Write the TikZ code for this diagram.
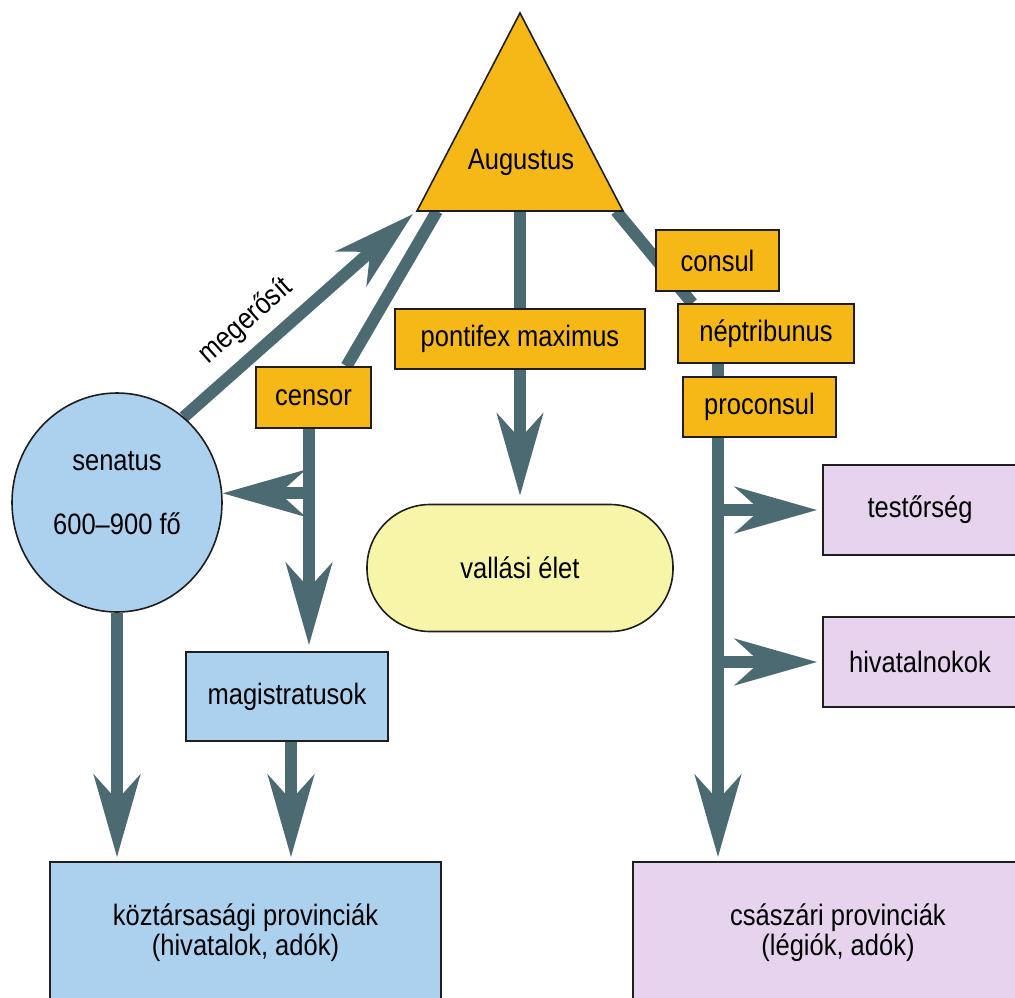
\documentclass[tikz,border=0pt]{standalone}
\usepackage{fontspec}
\setmainfont{Liberation Sans}[FakeStretch=0.865]
\usetikzlibrary{arrows.meta,shapes.geometric,calc}
\pgfdeclarelayer{bg}
\pgfsetlayers{bg,main}
\definecolor{lnc}{HTML}{4B6A71}
\definecolor{orng}{HTML}{F5B816}
\definecolor{lblue}{HTML}{ABD1EE}
\definecolor{lpurp}{HTML}{E7D3EE}
\definecolor{lyell}{HTML}{F7F6A8}
\definecolor{edge}{HTML}{1E1E1E}
\tikzset{
  conn/.style={draw=lnc,line width=12pt},
  arr/.style={conn,-{Stealth[length=82pt,width=46pt,inset=25pt]}},
  box/.style={draw=edge,line width=1.6pt,rectangle,inner sep=0pt,align=center},
  obox/.style={box,fill=orng},
  bbox/.style={box,fill=lblue},
  pbox/.style={box,fill=lpurp},
}
\begin{document}
\begin{tikzpicture}[x=1pt,y=-1pt,font=\fontsize{29.5}{30}\selectfont]
\useasboundingbox (0,0) rectangle (1015,997);
\clip (0,0) rectangle (1015,997);
% Augustus triangle
\filldraw[fill=orng,draw=edge,line width=1.6pt] (520,13) -- (417,211) -- (623,211) -- cycle;
\node (aug) at (521,162) {Augustus};
\coordinate (tl) at (413,214);
\coordinate (tbl) at (437,211);
\coordinate (tbm) at (520,211);
\coordinate (tbr) at (616,211);
% nodes
\node[obox,minimum width=250,minimum height=60] (pont) at (520,339) {pontifex maximus};
\node[box,fill=lyell,rounded corners=63pt,minimum width=306,minimum height=127] (vall) at (520,568) {vallási élet};
\node[obox,minimum width=123,minimum height=61] (consul) at (717.5,260.5) {consul};
\node[obox,minimum width=176,minimum height=59] (nept) at (766,333.5) {néptribunus};
\node[obox,minimum width=153,minimum height=60] (procon) at (759.5,407) {proconsul};
\node[pbox,minimum width=194,minimum height=90] (test) at (920,510) {testőrség};
\node[pbox,minimum width=194,minimum height=90] (hiv) at (920,662) {hivatalnokok};
\node[obox,minimum width=115,minimum height=61] (censor) at (313.5,397.5) {censor};
\node[bbox,shape=ellipse,minimum width=210,minimum height=219,text depth=19pt] (sen) at (117,502.5) {senatus\\[34pt]600–900 fő};
\node[bbox,minimum width=202,minimum height=89] (mag) at (287,696.5) {magistratusok};
\node[bbox,minimum width=391,minimum height=142] (kozt) at (245.5,933) {köztársasági provinciák\\(hivatalok, adók)};
\node[pbox,minimum width=410,minimum height=142] (csasz) at (838,933) {császári provinciák\\(légiók, adók)};
% connectors
\begin{pgfonlayer}{bg}
\draw[arr] (sen.52) -- node[sloped,above=7pt,pos=0.36,text=black] {megerősít} (tl);
\draw[conn] (tbl) -- ([xshift=33pt]censor.north);
\coordinate (cv) at ([xshift=-4.5pt]censor.south);
\draw[arr,shorten >=6pt] (cv) -- (cv |- mag.north);
\draw[arr] (cv |- sen.5) -- (sen.5);
\draw[arr,shorten >=4pt] (sen.south) -- (sen.south |- kozt.north);
\draw[arr,shorten >=4pt] ([xshift=4pt]mag.south) -- ([xshift=4pt]mag.south |- kozt.north);
\draw[conn] (tbm) -- (pont.north);
\draw[arr,shorten >=8pt] (pont.south) -- (vall.north);
\draw[conn] (tbr) -- ([xshift=15pt]nept.north west);
\coordinate (rv) at ([xshift=-48pt]nept.south);
\draw[conn] ([yshift=10pt]rv) -- (rv |- procon.north);
\draw[arr,shorten >=4pt] ([yshift=2pt]rv |- procon.south) -- (rv |- csasz.north);
\draw[arr,shorten >=5pt] (rv |- test.west) -- (test.west);
\draw[arr,shorten >=5pt] (rv |- hiv.west) -- (hiv.west);
\end{pgfonlayer}
\end{tikzpicture}
\end{document}
